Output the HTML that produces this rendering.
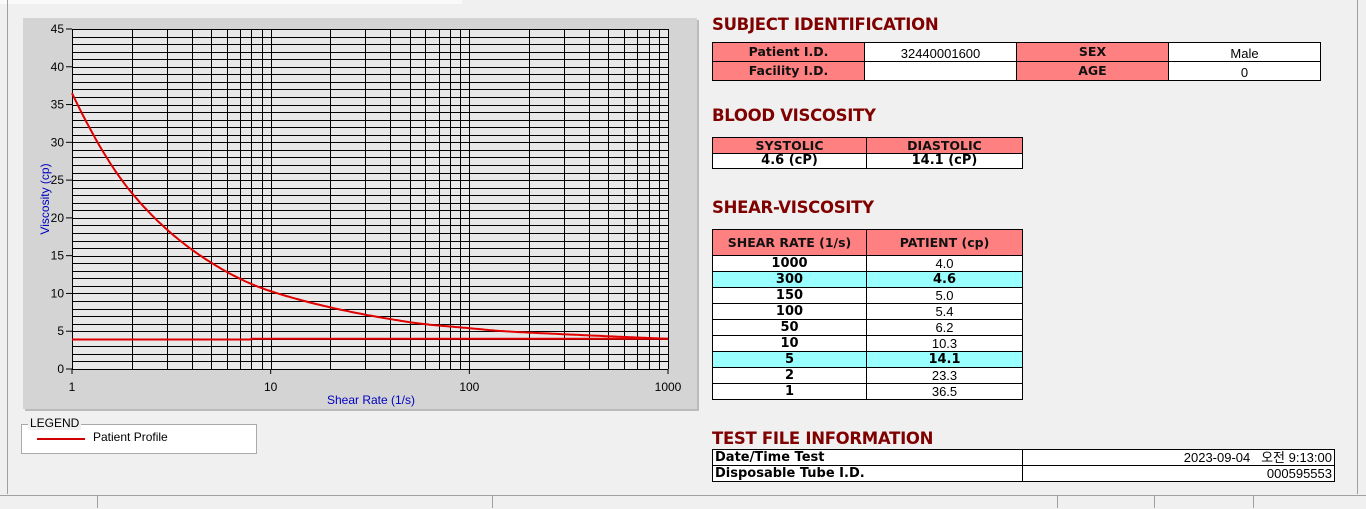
<!DOCTYPE html>
<html><head><meta charset="utf-8">
<style>
body{margin:0;width:1366px;height:508px;background:#f0f0f0;position:relative;overflow:hidden;font-family:"Liberation Sans","Noto Sans CJK KR",sans-serif}
.a{position:absolute}
.t{position:absolute;left:712px;color:#800000;font-weight:bold;font-size:16.5px;font-family:"DejaVu Sans",sans-serif;letter-spacing:-0.3px}
table{position:absolute;border-collapse:collapse;font-size:13px;table-layout:fixed}
td{border:1px solid #000;text-align:center;padding:0;white-space:nowrap;overflow:hidden;background:#fff;line-height:14px;vertical-align:bottom}
td.h{background:#ff8080;font-weight:bold;font-family:"DejaVu Sans",sans-serif;font-size:12.5px;color:#111;vertical-align:middle}
td.b{font-weight:bold;font-family:"DejaVu Sans",sans-serif}
tr.c td{background:#99ffff;font-weight:bold;font-family:"DejaVu Sans",sans-serif}
</style></head><body>
<div class="a" style="left:0;top:0;width:462px;height:4px;background:#fafafa"></div>
<div class="a" style="left:7px;top:0;width:1px;height:494px;background:#a0a0a0"></div>
<div class="a" style="left:1357px;top:0;width:1px;height:494px;background:#a0a0a0"></div>
<div class="a" style="left:23px;top:18px;width:674px;height:391px;background:#d4d4d4;box-shadow:2px 2px 0 #bbb"></div>
<svg class="a" style="left:0;top:0" width="700" height="420" id="s"></svg>
<div class="a" style="left:21px;top:424px;width:234px;height:28px;border:1px solid #aaa;background:#fff"></div>
<div class="a" style="left:28px;top:416px;background:#f0f0f0;font-size:12px;padding:0 2px">LEGEND</div>
<div class="a" style="left:37px;top:438px;width:48px;height:2px;background:#d00000"></div>
<div class="a" style="left:93px;top:430px;font-size:12px">Patient Profile</div>

<div class="t" style="top:15px">SUBJECT IDENTIFICATION</div>
<table style="left:712px;top:42px;width:609px"><col width="152"><col width="152"><col width="152"><col width="152">
<tr style="height:19px"><td class="h">Patient I.D.</td><td>32440001600</td><td class="h">SEX</td><td>Male</td></tr>
<tr style="height:19px"><td class="h">Facility I.D.</td><td></td><td class="h">AGE</td><td>0</td></tr></table>

<div class="t" style="top:106px">BLOOD VISCOSITY</div>
<table style="left:712px;top:137px;width:310px"><col width="154"><col width="156">
<tr style="height:16px"><td class="h" style="border-bottom:1px solid #000">SYSTOLIC</td><td class="h">DIASTOLIC</td></tr>
<tr style="height:15px"><td class="b">4.6 (cP)</td><td class="b">14.1 (cP)</td></tr></table>

<div class="t" style="top:198px">SHEAR-VISCOSITY</div>
<table style="left:712px;top:229px;width:310px"><col width="154"><col width="156">
<tr style="height:26px"><td class="h">SHEAR RATE (1/s)</td><td class="h">PATIENT (cp)</td></tr>
<tr style="height:16px"><td class="b">1000</td><td>4.0</td></tr>
<tr class="c" style="height:16px"><td>300</td><td>4.6</td></tr>
<tr style="height:16px"><td class="b">150</td><td>5.0</td></tr>
<tr style="height:16px"><td class="b">100</td><td>5.4</td></tr>
<tr style="height:16px"><td class="b">50</td><td>6.2</td></tr>
<tr style="height:16px"><td class="b">10</td><td>10.3</td></tr>
<tr class="c" style="height:16px"><td>5</td><td>14.1</td></tr>
<tr style="height:16px"><td class="b">2</td><td>23.3</td></tr>
<tr style="height:16px"><td class="b">1</td><td>36.5</td></tr></table>

<div class="t" style="top:429px">TEST FILE INFORMATION</div>
<table style="left:712px;top:449px;width:622px"><col width="310"><col width="312">
<tr style="height:16px"><td class="b" style="text-align:left;padding-left:2px">Date/Time Test</td><td style="text-align:right;padding-right:2px">2023-09-04&nbsp;&nbsp;&nbsp;오전 9:13:00</td></tr>
<tr style="height:16px"><td class="b" style="text-align:left;padding-left:2px">Disposable Tube I.D.</td><td style="text-align:right;padding-right:2px">000595553</td></tr></table>

<div class="a" style="left:0;top:495px;width:1366px;height:13px;background:#f0f0f0;border-top:1px solid #a0a0a0"></div>
<div class="a" style="left:97px;top:496px;width:1px;height:12px;background:#a0a0a0"></div>
<div class="a" style="left:492px;top:496px;width:1px;height:12px;background:#a0a0a0"></div>
<div class="a" style="left:1057px;top:496px;width:1px;height:12px;background:#a0a0a0"></div>
<div class="a" style="left:1154px;top:496px;width:1px;height:12px;background:#a0a0a0"></div>
<div class="a" style="left:1253px;top:496px;width:1px;height:12px;background:#a0a0a0"></div>

<script>
var s=document.getElementById('s'),h='';
var X0=72,X1=668,Y0=369,Y1=29,dx=(X1-X0)/3,dy=(Y0-Y1)/45;
function X(v){return X0+Math.log10(v)*dx}function Y(v){return Y0-v*dy}
h+='<rect x="'+X0+'" y="'+Y1+'" width="'+(X1-X0)+'" height="'+(Y0-Y1)+'" fill="#e8e8e8"/>';
for(var i=0;i<=45;i++){var y=Math.round(Y(i))+.5;h+='<line x1="'+X0+'" x2="'+X1+'" y1="'+y+'" y2="'+y+'" stroke="#000"/>';}
for(var d=1;d<=100;d*=10)for(var k=1;k<=10;k++){var x=Math.round(X(d*k))+.5;h+='<line x1="'+x+'" x2="'+x+'" y1="'+Y1+'" y2="'+Y0+'" stroke="#000"/>';}
for(var i=0;i<=45;i+=5){var y=Y(i);h+='<line x1="66" x2="'+X0+'" y1="'+y+'" y2="'+y+'" stroke="#000"/><text x="64" y="'+(y+4)+'" font-size="12" text-anchor="end" font-family="Liberation Sans">'+i+'</text>';}
[1,10,100,1000].forEach(function(v){var x=X(v);h+='<line x1="'+x+'" x2="'+x+'" y1="'+Y0+'" y2="'+(Y0+5)+'" stroke="#000"/><text x="'+x+'" y="391" font-size="12" text-anchor="middle" font-family="Liberation Sans">'+v+'</text>';});
h+='<text x="371" y="404" font-size="12" fill="#0000c0" text-anchor="middle" font-family="Liberation Sans">Shear Rate (1/s)</text>';
h+='<text transform="translate(49,199) rotate(-90)" font-size="12" fill="#0000c0" text-anchor="middle" font-family="Liberation Sans">Viscosity (cp)</text>';
var px=[0,Math.log10(2),Math.log10(5),1,Math.log10(50),2,Math.log10(150),Math.log10(300),3],py=[36.5,23.3,14.1,10.3,6.2,5.4,5.0,4.6,4.0];
var lp=py.map(Math.log);
function f(t){for(var i=0;i<px.length-1;i++)if(t<=px[i+1])break;var a=px[i],b=px[i+1],u=(t-a)/(b-a);
var m0=i>0?(lp[i+1]-lp[i-1])/(px[i+1]-px[i-1]):(lp[1]-lp[0])/(px[1]-px[0]);
var m1=i<px.length-2?(lp[i+2]-lp[i])/(px[i+2]-px[i]):(lp[i+1]-lp[i])/(b-a);var hh=b-a;
var u2=u*u,u3=u2*u;return Math.exp((2*u3-3*u2+1)*lp[i]+(u3-2*u2+u)*hh*m0+(-2*u3+3*u2)*lp[i+1]+(u3-u2)*hh*m1);}
var p='';for(var t=0;t<=3.0001;t+=0.01){p+=(p?'L':'M')+(X0+t*dx).toFixed(1)+','+Y(f(Math.min(t,3))).toFixed(1);}
h+='<path d="'+p+'" fill="none" stroke="#e00000" stroke-width="2"/>';
h+='<path d="M'+X0+','+Y(3.9)+'L'+X(8)+','+Y(3.9)+'L'+X(8)+','+Y(4.0)+'L'+X1+','+Y(4.0)+'" fill="none" stroke="#e00000" stroke-width="2"/>';
s.innerHTML=h;
</script>
</body></html>
